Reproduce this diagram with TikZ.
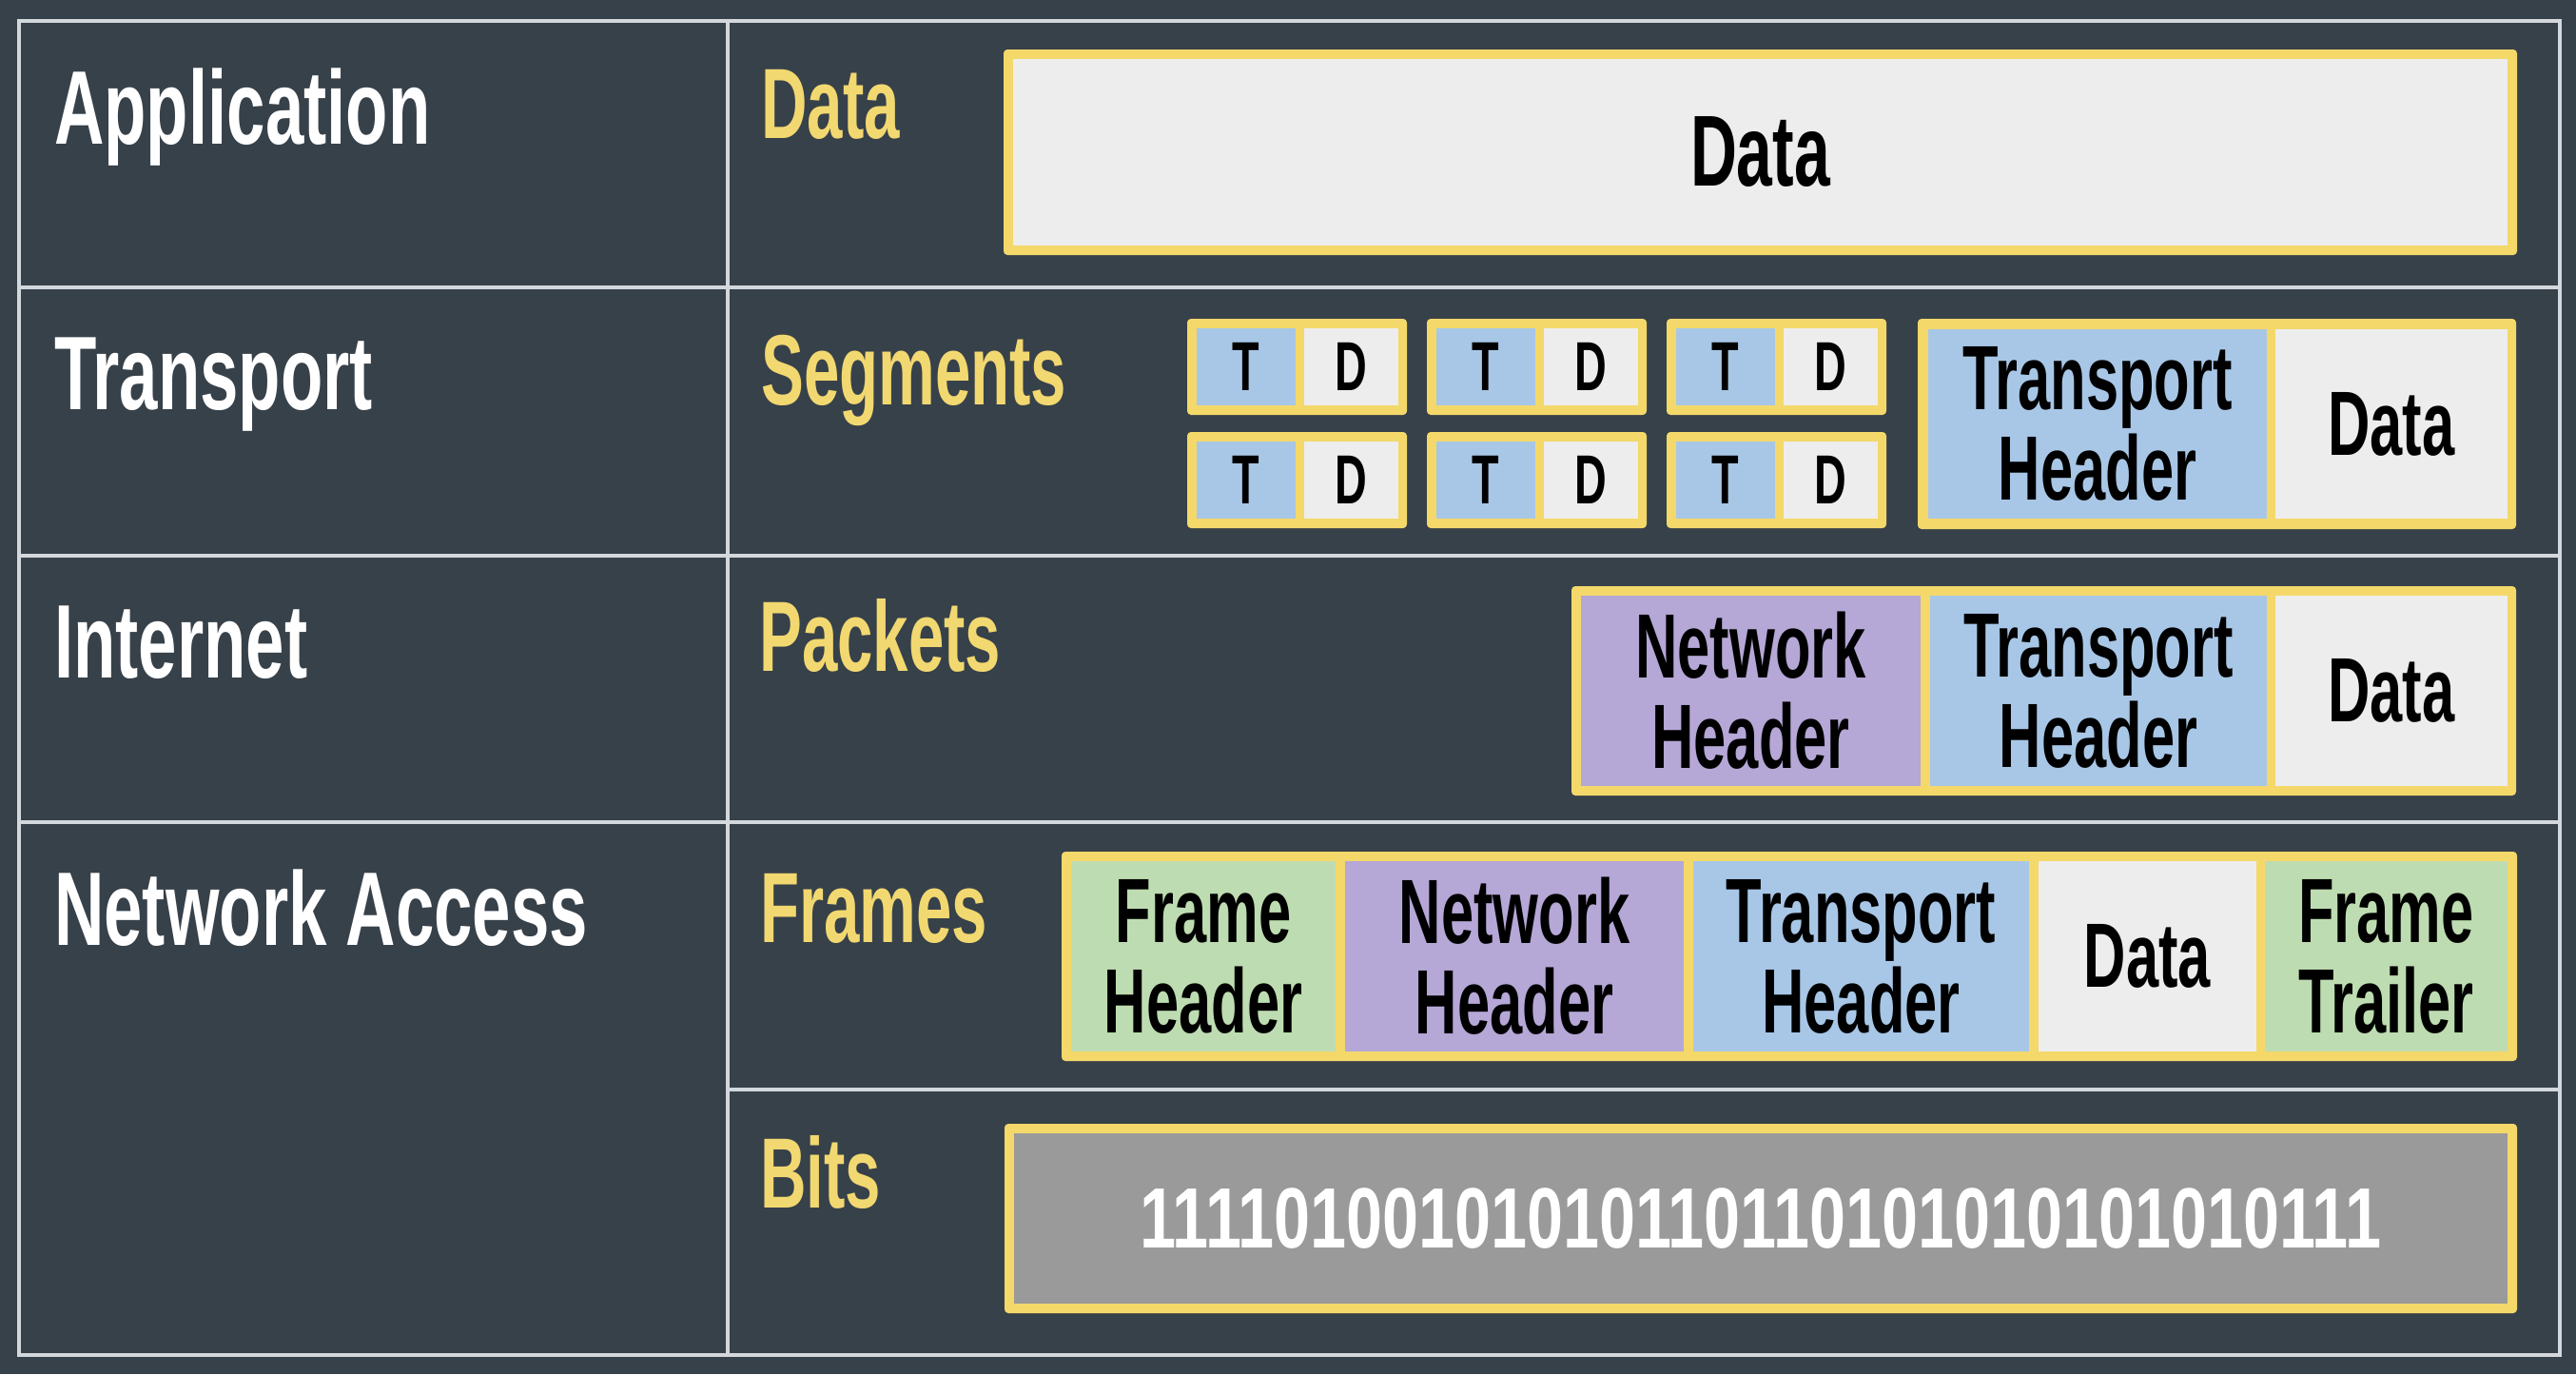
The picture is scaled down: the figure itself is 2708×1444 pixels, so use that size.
\documentclass[tikz,border=0pt]{standalone}
\usepackage{fontspec}
\setmainfont[FakeStretch=0.64]{Liberation Sans Bold}
\newfontfamily\bitsfam[FakeStretch=0.76]{Liberation Sans Bold}
\newfontfamily\lblfam[FakeStretch=0.66]{Liberation Sans Bold}
\definecolor{bgc}{HTML}{37414A}
\definecolor{lineclr}{HTML}{D3D8DD}
\definecolor{ybord}{HTML}{F4D86A}
\definecolor{ytext}{HTML}{F2D870}
\definecolor{cblue}{HTML}{A8C7E7}
\definecolor{cpurple}{HTML}{B5A7D6}
\definecolor{cgreen}{HTML}{BEDCB1}
\definecolor{cgrey}{HTML}{EDEDED}
\definecolor{cbits}{HTML}{9A9A9A}
\newcommand\lblfont{\lblfam\fontsize{110}{120}\selectfont}
\newcommand\ylblfont{\fontsize{105}{115}\selectfont}
\newcommand\cellfont{\fontsize{96}{95}\selectfont}
\newcommand\tdfont{\fontsize{73}{80}\selectfont}
\newcommand\bigdatafont{\fontsize{106}{110}\selectfont}
\newcommand\bitsfont{\bitsfam\fontsize{90}{100}\selectfont}
\newcommand\boxnode[7]{%
  \node[#6, minimum width={(#4)-(#2)}, minimum height={(#5)-(#3)}] (#1)
    at ({((#2)+(#4))/2},{((#3)+(#5))/2}) {#7};}
\tikzset{
  ybox/.style={fill=ybord, draw=none, rounded corners=4pt, inner sep=0pt},
  cell/.style={draw=none, inner sep=0pt, text=black, align=center, font=\cellfont},
  tline/.style={draw=lineclr, line width=3.5pt},
  wlabel/.style={anchor=base west, inner sep=0pt, text=white, font=\lblfont},
  ylabel/.style={anchor=base west, inner sep=0pt, text=ytext, font=\ylblfont},
}
\begin{document}
\begin{tikzpicture}[x=1pt,y=-1pt]
\useasboundingbox (0,0) rectangle (2708,1444);
\fill[bgc] (0,0) rectangle (2708,1444);
% table lines
\draw[tline] (20,22) rectangle (2691,1424);
\draw[tline] (765,22) -- (765,1424);
\draw[tline] (20,302) -- (2691,302);
\draw[tline] (20,584) -- (2691,584);
\draw[tline] (20,864) -- (2691,864);
\draw[tline] (765,1145) -- (2691,1145);
% left labels
\node[wlabel] (lapp) at (57,151) {Application};
\node[wlabel] (ltra) at (57,430) {Transport};
\node[wlabel] (lint) at (57,712) {Internet};
\node[wlabel] (lnet) at (57,993) {Network Access};
% yellow labels
\node[ylabel] (ydata) at (800,145) {Data};
\node[ylabel] (yseg) at (800,425) {Segments};
\node[ylabel] (ypkt) at (798,705) {Packets};
\node[ylabel] (yfrm) at (799,990) {Frames};
\node[ylabel] (ybits) at (799,1269) {Bits};
% application
\boxnode{appo}{1055}{52}{2646}{268}{ybox}{}
\boxnode{appd}{1065}{62}{2636}{258}{cell,fill=cgrey,font=\bigdatafont}{Data}
% transport small segments
\foreach \X [count=\i] in {1248,1500,1752}{
  \foreach \Y [count=\j] in {335,454}{
    \boxnode{sb-\i-\j}{\X}{\Y}{\X+231}{\Y+101}{ybox}{}
    \boxnode{sbt-\i-\j}{\X+10}{\Y+10}{\X+114}{\Y+91}{cell,fill=cblue,font=\tdfont}{T}
    \boxnode{sbd-\i-\j}{\X+123}{\Y+10}{\X+222}{\Y+91}{cell,fill=cgrey,font=\tdfont}{D}
  }
}
% transport big segment
\boxnode{tso}{2016}{335}{2645}{556}{ybox}{}
\boxnode{tsh}{2027}{346}{2383}{545}{cell,fill=cblue}{Transport\\Header}
\boxnode{tsd}{2392}{346}{2636}{545}{cell,fill=cgrey}{Data}
% packet
\boxnode{pko}{1652}{616}{2645}{836}{ybox}{}
\boxnode{pkn}{1662}{626}{2019}{826}{cell,fill=cpurple}{Network\\Header}
\boxnode{pkt}{2029}{626}{2383}{826}{cell,fill=cblue}{Transport\\Header}
\boxnode{pkd}{2392}{626}{2636}{826}{cell,fill=cgrey}{Data}
% frame
\boxnode{fro}{1116}{895}{2646}{1115}{ybox}{}
\boxnode{frh}{1126}{905}{1404}{1105}{cell,fill=cgreen}{Frame\\Header}
\boxnode{frn}{1414}{905}{1770}{1105}{cell,fill=cpurple}{Network\\Header}
\boxnode{frt}{1780}{905}{2133}{1105}{cell,fill=cblue}{Transport\\Header}
\boxnode{frd}{2143}{905}{2372}{1105}{cell,fill=cgrey}{Data}
\boxnode{frr}{2381}{905}{2636}{1105}{cell,fill=cgreen}{Frame\\Trailer}
% bits
\boxnode{bio}{1056}{1181}{2646}{1380}{ybox}{}
\boxnode{bii}{1066}{1191}{2636}{1370}{cell,fill=cbits,text=white,font=\bitsfont}{11110100101010110110101010101010111}
\end{tikzpicture}
\end{document}
